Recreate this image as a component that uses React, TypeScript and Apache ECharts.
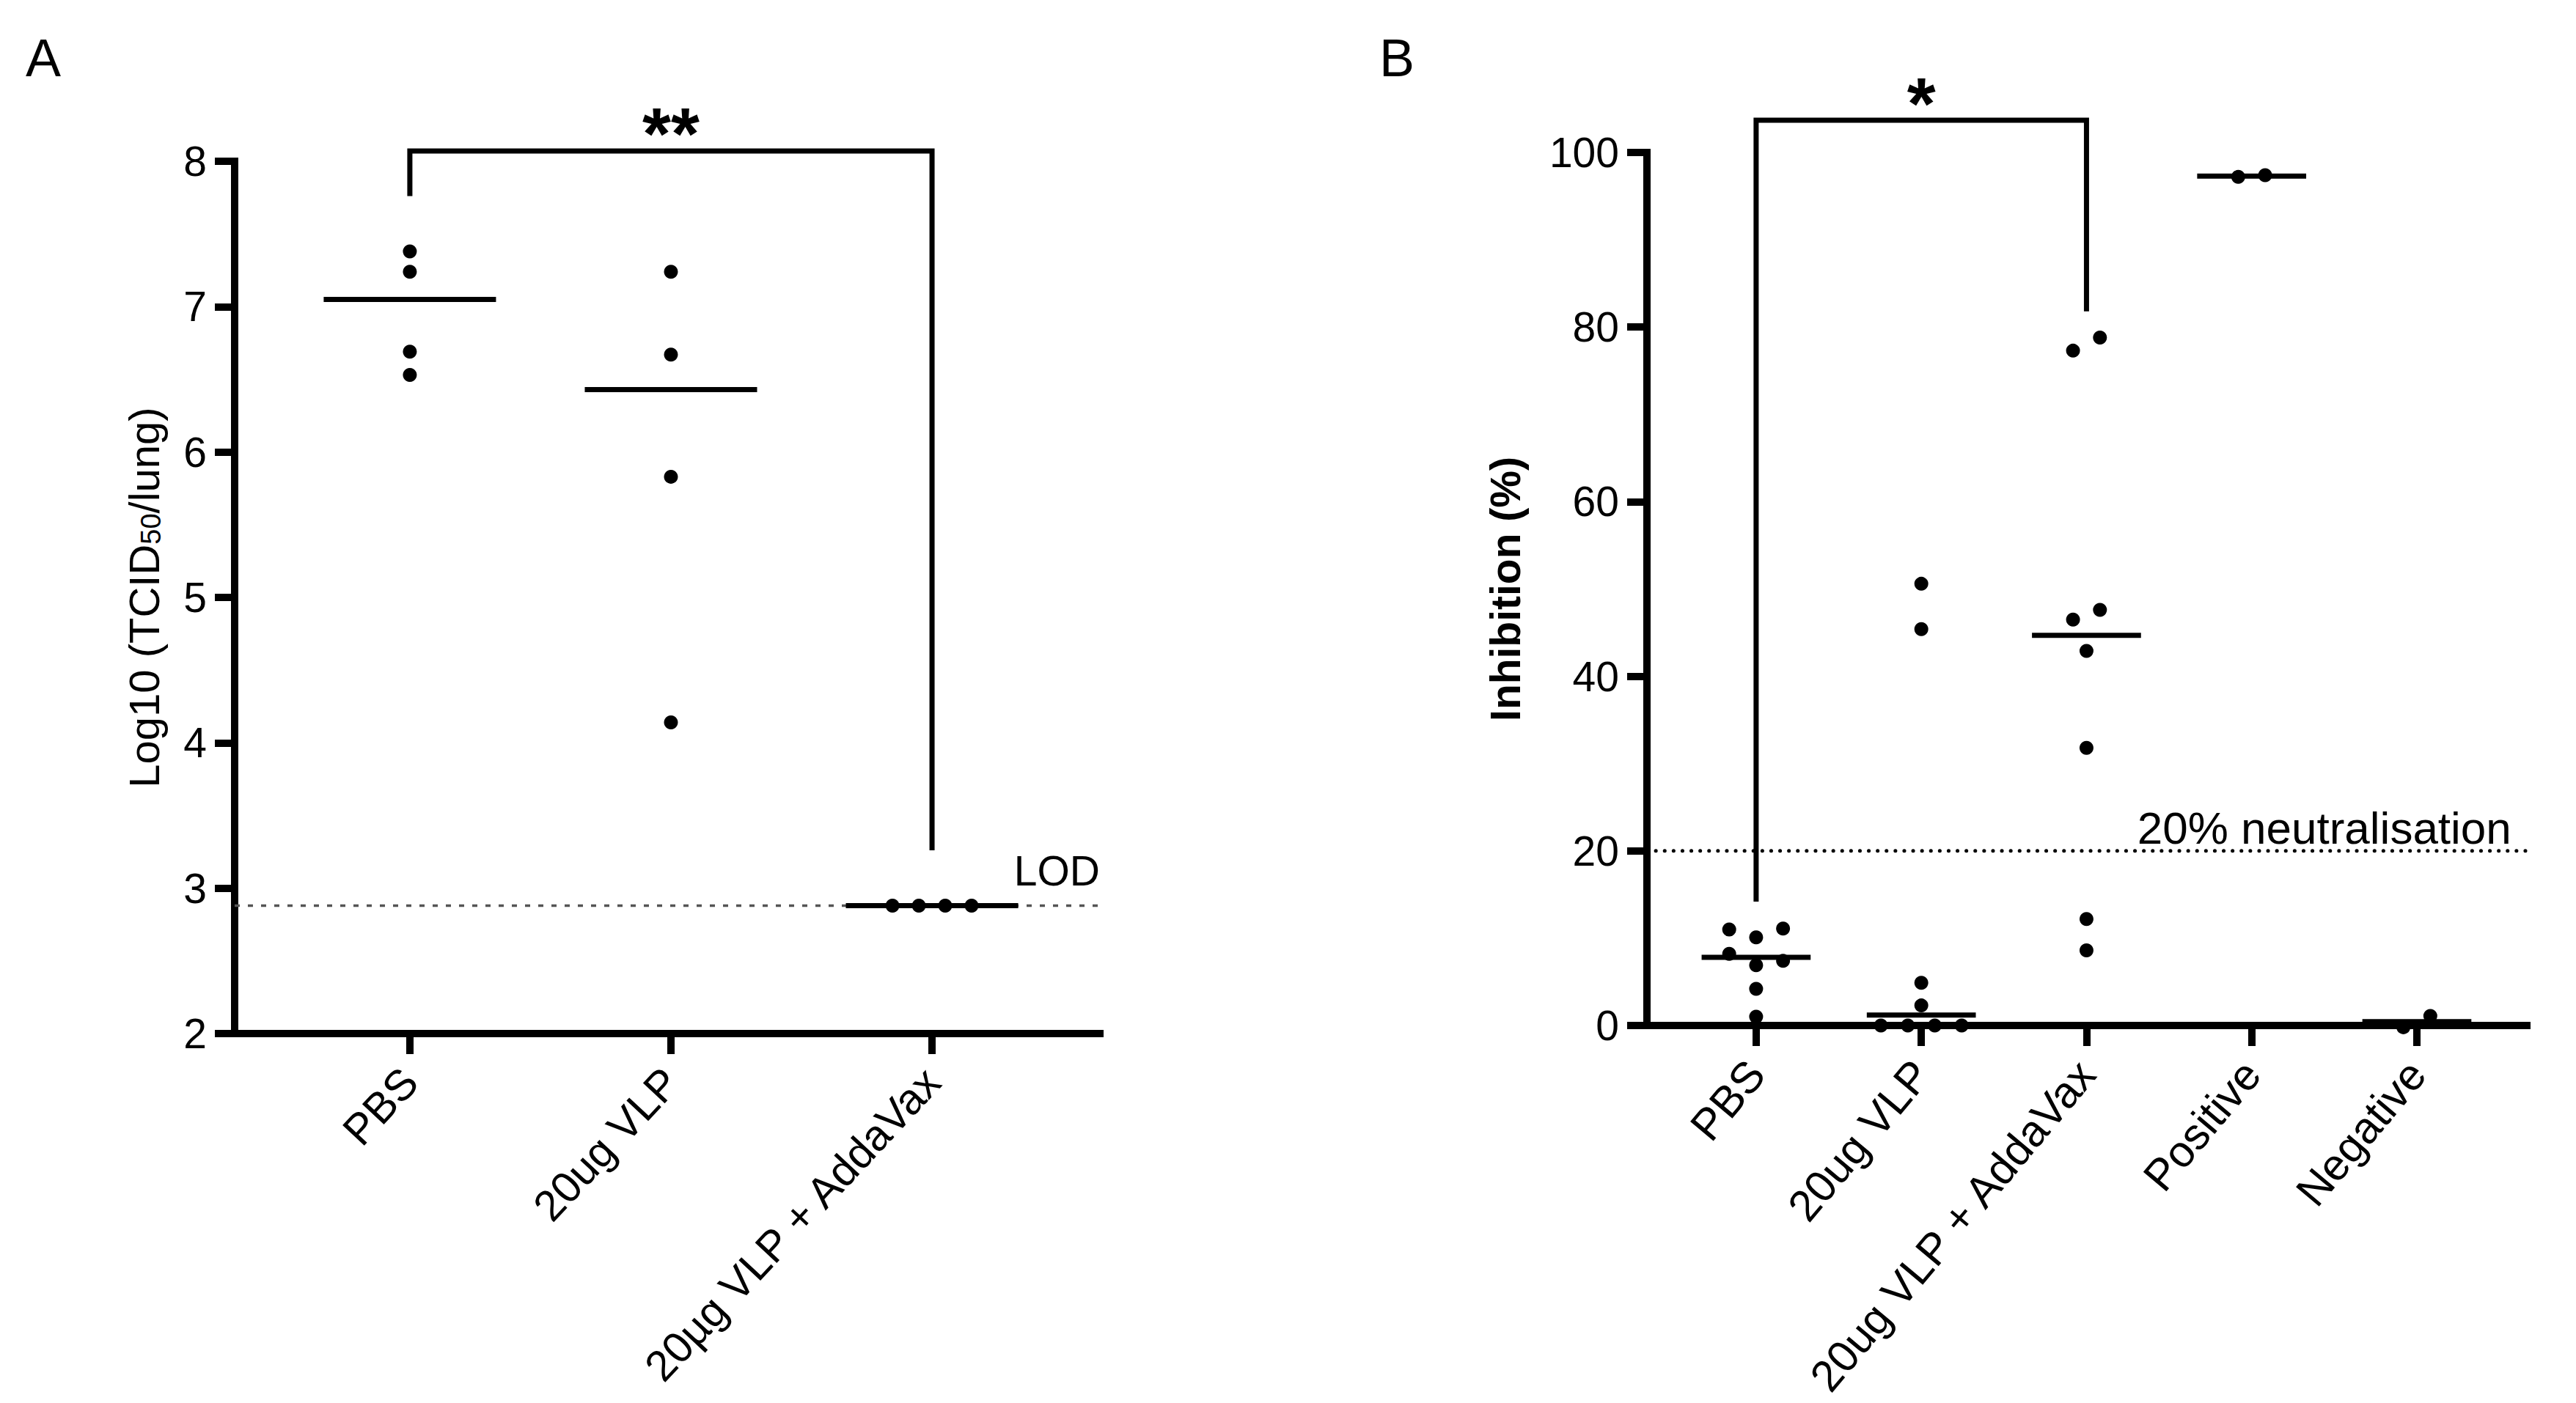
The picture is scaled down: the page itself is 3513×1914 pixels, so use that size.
import React, { useEffect, useRef } from 'react';
import * as echarts from 'echarts';

// ---------- Panel A data ----------
const CAT_A = ['PBS', '20ug VLP', '20\u00b5g VLP + AddaVax'];
const A_PBS = [7.38, 7.24, 6.69, 6.53];
const A_VLP = [7.24, 6.67, 5.83, 4.14];
const A_ADDAVAX = [2.88, 2.88, 2.88, 2.88];
const A_PBS_SLOTS = [0, 0, 0, 0];
const A_VLP_SLOTS = [0, 0, 0, 0];
const A_ADDAVAX_SLOTS = [-1.5, -0.5, 0.5, 1.5];
const A_MEDIANS = [7.05, 6.43, 2.88];
const A_LOD = 2.88;
const A_BRACKET_X = [0, 0, 2, 2];
const A_BRACKET_Y = [7.76, 8.07, 8.07, 3.26];
const A_Y_TICKS = [2, 8, 1]; // min, max, interval

// ---------- Panel B data ----------
const CAT_B = ['PBS', '20ug VLP', '20ug VLP + AddaVax', 'Positive', 'Negative'];
const B_PBS = [11.0, 10.1, 11.1, 8.2, 6.9, 7.4, 4.2, 1.0];
const B_PBS_SLOTS = [-1, 0, 1, -1, 0, 1, 0, 0];
const B_VLP = [50.6, 45.4, 4.9, 2.3, 0, 0, 0, 0];
const B_VLP_SLOTS = [0, 0, 0, 0, -1.5, -0.5, 0.5, 1.5];
const B_ADDAVAX = [78.8, 77.3, 47.6, 46.5, 42.9, 31.8, 12.2, 8.6];
const B_ADDAVAX_SLOTS = [0.5, -0.5, 0.5, -0.5, 0, 0, 0, 0];
const B_POS = [97.2, 97.4];
const B_POS_SLOTS = [-0.5, 0.5];
const B_NEG = [-0.2, 1.1];
const B_NEG_SLOTS = [-0.5, 0.5];
const B_MEDIANS = [7.8, 1.2, 44.7, 97.3, 0.45];
const B_THRESHOLD = 20;
const B_BRACKET_X = [0, 0, 2, 2];
const B_BRACKET_Y = [14.2, 103.7, 103.7, 81.8];
const B_Y_TICKS = [0, 100, 20];

// ---------- styling ----------
const FONT = 'Liberation Sans, Arial, Helvetica, sans-serif';
const BLACK = '#000';
const A_X_RANGE = [-0.671, 2.643];
const B_X_RANGE = [-0.661, 4.666];
const SWARM_A = 0.101;
const SWARM_B = 0.163;
const HALF = 0.33;

function pts(vals: number[], slots: number[], cat: number, sp: number) {
  return vals.map((v, i) => [cat + slots[i] * sp, v]);
}

function xAxis(grid: number, range: number[], cats: string[], rotate: number, fontSize: number) {
  const vals = cats.map((_, i) => i);
  return {
    gridIndex: grid,
    type: 'value',
    min: range[0],
    max: range[1],
    axisLine: { show: true, onZero: false, lineStyle: { color: BLACK, width: 10, cap: 'square' } },
    axisTick: { show: true, customValues: vals, length: 28, lineStyle: { color: BLACK, width: 10 } },
    axisLabel: {
      show: true,
      customValues: vals,
      formatter: (v: number) => cats[Math.round(v)] ?? '',
      rotate,
      margin: 56,
      fontSize,
      color: BLACK,
      fontFamily: FONT,
    },
    splitLine: { show: false },
  };
}

function yAxis(grid: number, t: number[], extra: any) {
  return {
    gridIndex: grid,
    type: 'value',
    min: t[0],
    max: t[1],
    interval: t[2],
    axisLine: { show: true, onZero: false, lineStyle: { color: BLACK, width: 10, cap: 'square' } },
    axisTick: { show: true, length: 27, lineStyle: { color: BLACK, width: 10 } },
    axisLabel: { margin: 38, fontSize: 57, color: BLACK, fontFamily: FONT },
    splitLine: { show: false },
    nameLocation: 'middle',
    ...extra,
  };
}

function dots(grid: number, data: number[][]) {
  return {
    type: 'scatter',
    xAxisIndex: grid,
    yAxisIndex: grid,
    data,
    symbol: 'circle',
    symbolSize: 19,
    itemStyle: { color: BLACK, opacity: 1 },
    clip: false,
    z: 5,
  };
}

function medians(grid: number, meds: number[]) {
  return {
    type: 'custom',
    xAxisIndex: grid,
    yAxisIndex: grid,
    data: meds.map((m, i) => [i, m]),
    encode: { x: 0, y: 1 },
    clip: false,
    z: 4,
    renderItem: (_p: any, api: any) => {
      const x = api.value(0);
      const y = api.value(1);
      const a = api.coord([x - HALF, y]);
      const b = api.coord([x + HALF, y]);
      return {
        type: 'line',
        shape: { x1: a[0], y1: a[1], x2: b[0], y2: b[1] },
        style: { stroke: BLACK, lineWidth: 7 },
      };
    },
  };
}

function bracket(grid: number, xs: number[], ys: number[]) {
  return {
    type: 'line',
    xAxisIndex: grid,
    yAxisIndex: grid,
    data: xs.map((x, i) => [x, ys[i]]),
    symbol: 'none',
    clip: false,
    lineStyle: { color: BLACK, width: 7, join: 'miter', opacity: 1 },
    z: 3,
  };
}

function textMark(grid: number, x: number, y: number, text: string, label: any) {
  return {
    type: 'scatter',
    xAxisIndex: grid,
    yAxisIndex: grid,
    data: [[x, y]],
    symbolSize: 1,
    itemStyle: { color: 'rgba(0,0,0,0)', opacity: 1 },
    clip: false,
    z: 6,
    label: { show: true, formatter: text, color: BLACK, opacity: 1, fontFamily: FONT, ...label },
  };
}

function refLine(grid: number, x0: number, x1: number, y: number, style: any) {
  return {
    type: 'line',
    xAxisIndex: grid,
    yAxisIndex: grid,
    data: [[x0, y], [x1, y]],
    symbol: 'none',
    clip: false,
    lineStyle: style,
    z: 2,
  };
}

const option: any = {
  animation: false,
  backgroundColor: '#fff',
  textStyle: { fontFamily: FONT, color: BLACK },
  title: [
    { text: 'A', left: 30, top: 38, textStyle: { fontSize: 72, fontWeight: 'normal', color: BLACK, fontFamily: FONT } },
    { text: 'B', left: 1876, top: 38, textStyle: { fontSize: 72, fontWeight: 'normal', color: BLACK, fontFamily: FONT } },
  ],
  grid: [
    { left: 320, top: 220, width: 1180, height: 1190 },
    { left: 2246, top: 208, width: 1200, height: 1200 },
  ],
  xAxis: [xAxis(0, A_X_RANGE, CAT_A, 47, 59), xAxis(1, B_X_RANGE, CAT_B, 50, 60)],
  yAxis: [
    yAxis(0, A_Y_TICKS, {
      name: '{t|Log10 (TCID}{s|50}{t|/lung)}',
      nameGap: 95,
      nameTextStyle: {
        rich: {
          t: { fontSize: 58, color: BLACK, fontFamily: FONT },
          s: { fontSize: 38, color: BLACK, fontFamily: FONT, verticalAlign: 'bottom' },
        },
      },
    }),
    yAxis(1, B_Y_TICKS, {
      name: 'Inhibition (%)',
      nameGap: 165,
      nameTextStyle: { fontSize: 57, fontWeight: 'bold', color: BLACK, fontFamily: FONT },
    }),
  ],
  series: [
    // Panel A
    refLine(0, A_X_RANGE[0], A_X_RANGE[1], A_LOD, { color: '#555', width: 3.5, type: [7, 11], opacity: 1 }),
    textMark(0, A_X_RANGE[1], A_LOD, 'LOD', { position: 'top', align: 'right', distance: 18, fontSize: 57 }),
    bracket(0, A_BRACKET_X, A_BRACKET_Y),
    textMark(0, (A_BRACKET_X[0] + A_BRACKET_X[3]) / 2, A_BRACKET_Y[1], '**', {
      position: 'top', distance: -26, fontSize: 100, fontWeight: 'bold',
    }),
    medians(0, A_MEDIANS),
    dots(0, pts(A_PBS, A_PBS_SLOTS, 0, SWARM_A)),
    dots(0, pts(A_VLP, A_VLP_SLOTS, 1, SWARM_A)),
    dots(0, pts(A_ADDAVAX, A_ADDAVAX_SLOTS, 2, SWARM_A)),
    // Panel B
    refLine(1, B_X_RANGE[0], 4.79, B_THRESHOLD, { color: BLACK, width: 5, type: [0.1, 12], cap: 'round', opacity: 1 }),
    textMark(1, 4.572, B_THRESHOLD, '20% neutralisation', { position: 'top', align: 'right', distance: 0, fontSize: 62 }),
    bracket(1, B_BRACKET_X, B_BRACKET_Y),
    textMark(1, (B_BRACKET_X[0] + B_BRACKET_X[3]) / 2, B_BRACKET_Y[1], '*', {
      position: 'top', distance: -28, fontSize: 100, fontWeight: 'bold',
    }),
    medians(1, B_MEDIANS),
    dots(1, pts(B_PBS, B_PBS_SLOTS, 0, SWARM_B)),
    dots(1, pts(B_VLP, B_VLP_SLOTS, 1, SWARM_B)),
    dots(1, pts(B_ADDAVAX, B_ADDAVAX_SLOTS, 2, SWARM_B)),
    dots(1, pts(B_POS, B_POS_SLOTS, 3, SWARM_B)),
    dots(1, pts(B_NEG, B_NEG_SLOTS, 4, SWARM_B)),
  ],
};

export default function App() {
  const ref = useRef<HTMLDivElement>(null);
  useEffect(() => {
    const chart = echarts.init(ref.current as HTMLDivElement, null, { renderer: 'svg' });
    chart.setOption(option);
    return () => chart.dispose();
  }, []);
  return (
    <div
      ref={ref}
      style={{ position: 'absolute', left: 0, top: 0, width: 3513, height: 1914, background: '#fff' }}
    />
  );
}
